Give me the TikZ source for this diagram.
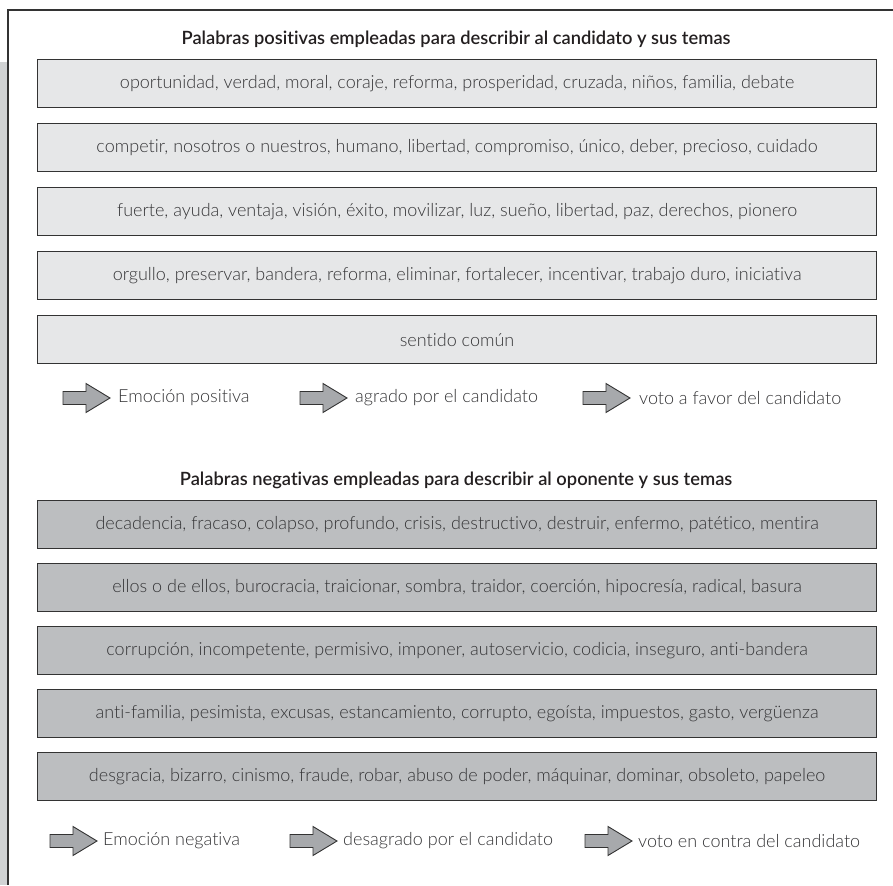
\documentclass[tikz,border=0pt]{standalone}
\usepackage{fontspec}
\setmainfont{Lato}[Ligatures=NoCommon]
\newfontfamily\boxfont{Lato Light}[Ligatures=NoCommon]
\newfontfamily\ttlfont{Lato Semibold}[Ligatures=NoCommon]
\definecolor{posfill}{HTML}{E6E7E8}
\definecolor{negfill}{HTML}{BCBEC0}
\definecolor{boxline}{HTML}{333333}
\definecolor{txtgray}{HTML}{353537}
\definecolor{ttlcol}{HTML}{231F20}
\definecolor{bandgray}{HTML}{D1D3D4}
\definecolor{arrfill}{HTML}{A7A9AC}
\tikzset{
  wordbox/.style={draw=boxline, line width=1.1pt, minimum width=839pt, minimum height=48pt,
    anchor=north west, inner sep=0pt, text=txtgray, font=\boxfont\fontsize{18}{21}\selectfont},
  posbox/.style={wordbox, fill=posfill},
  negbox/.style={wordbox, fill=negfill},
  ttl/.style={text=ttlcol, font=\ttlfont\fontsize{18.3}{21}\selectfont, inner sep=0pt},
  legtext/.style={anchor=west, inner sep=0pt, text=txtgray, font=\boxfont\fontsize{18}{21}\selectfont},
  blockarrow/.pic={
    \draw[draw=boxline, fill=arrfill, line width=0.9pt, line join=miter]
      (0,-6.5) -- (23,-6.5) -- (23,-14.5) -- (47,0) -- (23,14.5) -- (23,6.5) -- (0,6.5) -- cycle;
    \coordinate (-tip) at (47,0);
  }
}
\begin{document}
\begin{tikzpicture}[x=1pt,y=-1pt]
\useasboundingbox (0,0) rectangle (893,885);
\fill[bandgray] (0,62) rectangle (7,885);
\draw[boxline, line width=1.1pt] (8,885) -- (8,10) -- (893,10);

% positive section
\node[ttl] (t1) at (456,39) {Palabras positivas empleadas para describir al candidato y sus temas};
\node[posbox] (p1) at (37,59)  {oportunidad, verdad, moral, coraje, reforma, prosperidad, cruzada, niños, familia, debate};
\node[posbox] (p2) at (37,123) {competir, nosotros o nuestros, humano, libertad, compromiso, único, deber, precioso, cuidado};
\node[posbox] (p3) at (37,187) {fuerte, ayuda, ventaja, visión, éxito, movilizar, luz, sueño, libertad, paz, derechos, pionero};
\node[posbox] (p4) at (37,251) {orgullo, preservar, bandera, reforma, eliminar, fortalecer, incentivar, trabajo duro, iniciativa};
\node[posbox] (p5) at (37,315) {sentido común};

\pic (pa1) at (63,398) {blockarrow};
\node[legtext] (pl1) at (118,398) {Emoción positiva};
\pic (pa2) at (300,398) {blockarrow};
\node[legtext] (pl2) at (355,398) {agrado por el candidato};
\pic (pa3) at (583,398) {blockarrow};
\node[legtext] (pl3) at (639,398) {voto a favor del candidato};

% negative section
\node[ttl] (t2) at (456,480) {Palabras negativas empleadas para describir al oponente y sus temas};
\node[negbox] (n1) at (37,500) {decadencia, fracaso, colapso, profundo, crisis, destructivo, destruir, enfermo, patético, mentira};
\node[negbox] (n2) at (37,563) {ellos o de ellos, burocracia, traicionar, sombra, traidor, coerción, hipocresía, radical, basura};
\node[negbox] (n3) at (37,626) {corrupción, incompetente, permisivo, imponer, autoservicio, codicia, inseguro, anti-bandera};
\node[negbox] (n4) at (37,689) {anti-familia, pesimista, excusas, estancamiento, corrupto, egoísta, impuestos, gasto, vergüenza};
\node[negbox] (n5) at (37,752) {desgracia, bizarro, cinismo, fraude, robar, abuso de poder, máquinar, dominar, obsoleto, papeleo};

\pic (na1) at (50,841) {blockarrow};
\node[legtext] (nl1) at (103,841) {Emoción negativa};
\pic (na2) at (290,841) {blockarrow};
\node[legtext] (nl2) at (343,841) {desagrado por el candidato};
\pic (na3) at (585,841) {blockarrow};
\node[legtext] (nl3) at (638,841) {voto en contra del candidato};
\end{tikzpicture}
\end{document}
